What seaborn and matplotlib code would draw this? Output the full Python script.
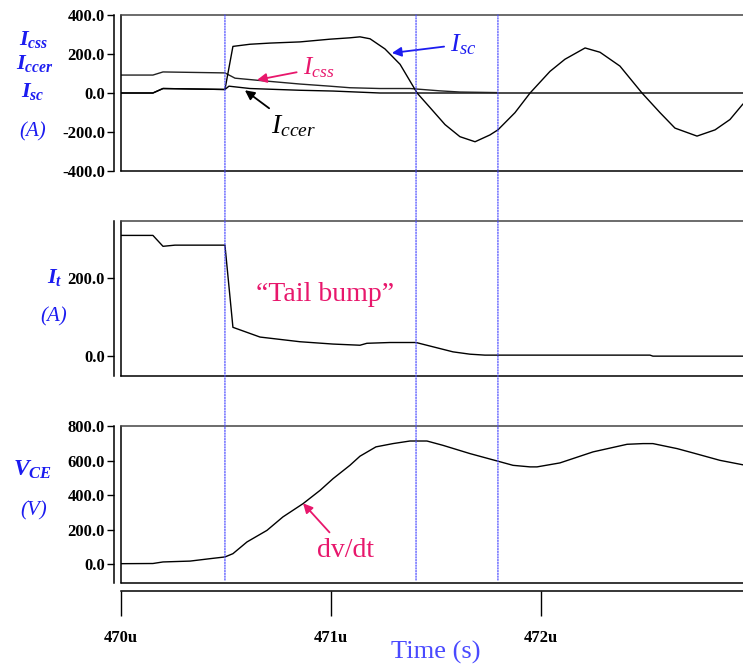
#!/usr/bin/env python3
# Three stacked transient panels (Icss / Iccer / Isc, It, VCE) sharing a time axis.

import pandas as pd
import seaborn as sns
import matplotlib.pyplot as plt
from matplotlib.patches import ConnectionPatch

# ---- data (time in microseconds) ----
T_SC = [470.000, 470.152, 470.200, 470.495, 470.533, 470.614, 470.710, 470.852, 470.995,
        471.090, 471.138, 471.186, 471.257, 471.329, 471.410, 471.471, 471.543, 471.614,
        471.686, 471.757, 471.795, 471.876, 471.948, 472.043, 472.114, 472.210, 472.281,
        472.376, 472.481, 472.567, 472.638, 472.743, 472.829, 472.900, 472.962]
I_SC = [0, 0, 23, 18, 239, 250, 256, 262, 276,
        283, 288, 278, 226, 147, 0, -74, -162, -224,
        -250, -215, -189, -101, 0, 111, 173, 231, 209,
        138, 0, -101, -180, -221, -189, -136, -56]

T_CSS = [470.000, 470.152, 470.200, 470.495, 470.543, 470.662, 470.852, 470.995,
         471.090, 471.233, 471.376, 471.519, 471.614, 471.795]
I_CSS = [92, 92, 108, 103, 76, 64, 46, 35, 27, 23, 23, 11, 5, 2]

T_CCER = [470.000, 470.152, 470.200, 470.495, 470.514, 470.614, 470.852, 471.010,
          471.233, 472.962]
I_CCER = [0, 0, 23, 18, 35, 23, 14, 10, 0, 0]

T_T = [470.000, 470.152, 470.200, 470.257, 470.495, 470.533, 470.662, 470.852, 471.010,
       471.138, 471.171, 471.281, 471.405, 471.581, 471.662, 471.733, 472.519, 472.533,
       472.962]
I_T = [310, 310, 282, 285, 285, 74, 49, 37, 31,
       28, 33, 35, 35, 11, 5, 2.6, 2.6, 0,
       0]

T_CE = [470.000, 470.152, 470.200, 470.329, 470.424, 470.495, 470.533, 470.600, 470.695,
        470.771, 470.867, 470.948, 471.010, 471.090, 471.138, 471.214, 471.295, 471.376,
        471.457, 471.533, 471.662, 471.795, 471.867, 471.948, 471.981, 472.090, 472.248,
        472.410, 472.486, 472.533, 472.648, 472.724, 472.852, 472.962]
V_CE = [2, 3, 12, 17, 31, 41, 60, 128, 195,
        273, 350, 427, 495, 572, 625, 679, 698, 713,
        713, 688, 640, 596, 572, 563, 563, 586, 650,
        694, 698, 698, 669, 644, 601, 575]

EVENTS = [470.495, 471.405, 471.795]
X_TICKS = [470, 471, 472]
X_LIM = (470.0, 472.962)

BLUE = "#1c1cf0"
LIGHT_BLUE = "#4a4aff"
PINK = "#e8176c"
SERIF = "Liberation Serif"


def style_panel(ax, ylim, yticks, offset_bottom=False):
    ax.set_xlim(*X_LIM)
    ax.set_ylim(*ylim)
    ax.set_xlabel("")
    ax.set_ylabel("")
    ax.spines["right"].set_visible(False)
    ax.spines["top"].set_color("#444444")
    ax.spines["left"].set_position(("outward", 5))
    for s in ("top", "bottom", "left"):
        ax.spines[s].set_linewidth(1.1)
    ax.spines["left"].set_color("black")
    ax.spines["bottom"].set_color("black")
    # inner box edge on the left
    ax.plot([0, 0], [0, 1], transform=ax.transAxes, color="black", lw=1.1,
            clip_on=False)
    ax.tick_params(axis="y", direction="out", length=5, width=1, pad=1.5,
                   colors="black", left=True)
    ax.set_yticks(yticks, labels=[f"{v:.1f}" for v in yticks])
    if offset_bottom:
        ax.spines["bottom"].set_position(("outward", 6))
        ax.plot([0, 1], [0, 0], transform=ax.transAxes, color="black", lw=1.1,
                clip_on=False)
        ax.tick_params(axis="x", direction="out", length=18, width=1, pad=10,
                       bottom=True, colors="black")
        ax.set_xticks(X_TICKS, labels=[f"{v}u" for v in X_TICKS])
    else:
        ax.set_xticks([])
    ax.set_xlim(*X_LIM)
    ax.set_ylim(*ylim)


def main():
    sns.set_theme(style="white")
    plt.rcParams["font.family"] = [SERIF, "DejaVu Serif"]
    plt.rcParams["mathtext.fontset"] = "custom"
    plt.rcParams["mathtext.rm"] = SERIF
    plt.rcParams["mathtext.it"] = SERIF + ":italic:bold"
    plt.rcParams["mathtext.bf"] = SERIF + ":bold"
    plt.rcParams["mathtext.sf"] = SERIF + ":italic"

    fig = plt.figure(figsize=(7.43, 6.66), dpi=100)
    W, H = 743, 666

    def frame(top, bottom):
        return [121 / W, 1 - bottom / H, 622 / W, (bottom - top) / H]

    ax1 = fig.add_axes(frame(15, 171))
    ax2 = fig.add_axes(frame(221, 376))
    ax3 = fig.add_axes(frame(426, 583))

    line_kw = dict(color="black", lw=1.0, legend=False, estimator=None)

    # ---- currents panel ----
    sns.lineplot(data=pd.DataFrame({"t": T_CCER, "v": I_CCER}), x="t", y="v", ax=ax1, **line_kw)
    sns.lineplot(data=pd.DataFrame({"t": T_CSS, "v": I_CSS}), x="t", y="v", ax=ax1,
                 color="#222222", lw=1.0, legend=False, estimator=None)
    sns.lineplot(data=pd.DataFrame({"t": T_SC, "v": I_SC}), x="t", y="v", ax=ax1, **line_kw)
    style_panel(ax1, (-400, 400), [-400, -200, 0, 200, 400])

    ax1.annotate(r"$\mathsf{I}_{\mathsf{css}}$", xy=(470.648, 67), xytext=(470.94, 128),
                 color=PINK, fontsize=18, ha="center", va="center",
                 arrowprops=dict(arrowstyle="-|>", color=PINK, lw=1.3, mutation_scale=14,
                                 shrinkA=2, shrinkB=0))
    ax1.annotate(r"$\mathsf{I}_{\mathsf{ccer}}$", xy=(470.590, 14), xytext=(470.82, -170),
                 color="black", fontsize=20, ha="center", va="center",
                 arrowprops=dict(arrowstyle="-|>", color="black", lw=1.3, mutation_scale=14,
                                 shrinkA=2, shrinkB=0))
    ax1.annotate(r"$\mathsf{I}_{\mathsf{sc}}$", xy=(471.290, 205), xytext=(471.63, 250),
                 color=BLUE, fontsize=19, ha="center", va="center",
                 arrowprops=dict(arrowstyle="-|>", color=BLUE, lw=1.3, mutation_scale=14,
                                 shrinkA=2, shrinkB=0))

    # ---- tail current panel ----
    sns.lineplot(data=pd.DataFrame({"t": T_T, "v": I_T}), x="t", y="v", ax=ax2, **line_kw)
    style_panel(ax2, (-51, 347), [0, 200])
    ax2.text(470.97, 159, "\u201cTail bump\u201d", color=PINK, fontsize=20,
             ha="center", va="center", family=SERIF)

    # ---- voltage panel ----
    sns.lineplot(data=pd.DataFrame({"t": T_CE, "v": V_CE}), x="t", y="v", ax=ax3, **line_kw)
    style_panel(ax3, (-110, 800), [0, 200, 400, 600, 800], offset_bottom=True)
    ax3.annotate("dv/dt", xy=(470.867, 352), xytext=(471.07, 80),
                 color=PINK, fontsize=20, ha="center", va="center", family=SERIF,
                 arrowprops=dict(arrowstyle="-|>", color=PINK, lw=1.3, mutation_scale=14,
                                 shrinkA=2, shrinkB=0))
    ax3.set_xlabel("Time (s)", color=LIGHT_BLUE, fontsize=19, family=SERIF, va="center")
    ax3.xaxis.set_label_coords((436 - 121) / 622, (583 - 652) / 157)

    # bold condensed-looking tick labels
    for ax in (ax1, ax2, ax3):
        for lbl in ax.get_yticklabels() + ax.get_xticklabels():
            lbl.set_fontfamily(SERIF)
            lbl.set_fontweight("bold")
            lbl.set_fontsize(12)
            lbl.set_color("black")

    # ---- dotted event markers across all panels ----
    for t in EVENTS:
        con = ConnectionPatch(xyA=(t, 400), coordsA=ax1.transData,
                              xyB=(t, -100), coordsB=ax3.transData,
                              color=LIGHT_BLUE, lw=0.9, linestyle=(0, (1, 1.2)))
        fig.add_artist(con)

    # ---- left-side quantity labels ----
    lab = dict(color=BLUE, ha="center", va="center")
    fig.text(34 / W, 1 - 39 / H, r"$I_{css}$", fontsize=16, **lab)
    fig.text(35 / W, 1 - 64 / H, r"$I_{ccer}$", fontsize=16, **lab)
    fig.text(33 / W, 1 - 92 / H, r"$I_{sc}$", fontsize=16, **lab)
    fig.text(33 / W, 1 - 132 / H, "(A)", fontsize=15, style="italic", family=SERIF, **lab)
    fig.text(55 / W, 1 - 277 / H, r"$I_{t}$", fontsize=16, **lab)
    fig.text(54 / W, 1 - 317 / H, "(A)", fontsize=15, style="italic", family=SERIF, **lab)
    fig.text(33 / W, 1 - 470 / H, r"$V_{CE}$", fontsize=17, **lab)
    fig.text(34 / W, 1 - 511 / H, "(V)", fontsize=15, style="italic", family=SERIF, **lab)

    fig.savefig("out.png", dpi=100)


if __name__ == "__main__":
    main()
